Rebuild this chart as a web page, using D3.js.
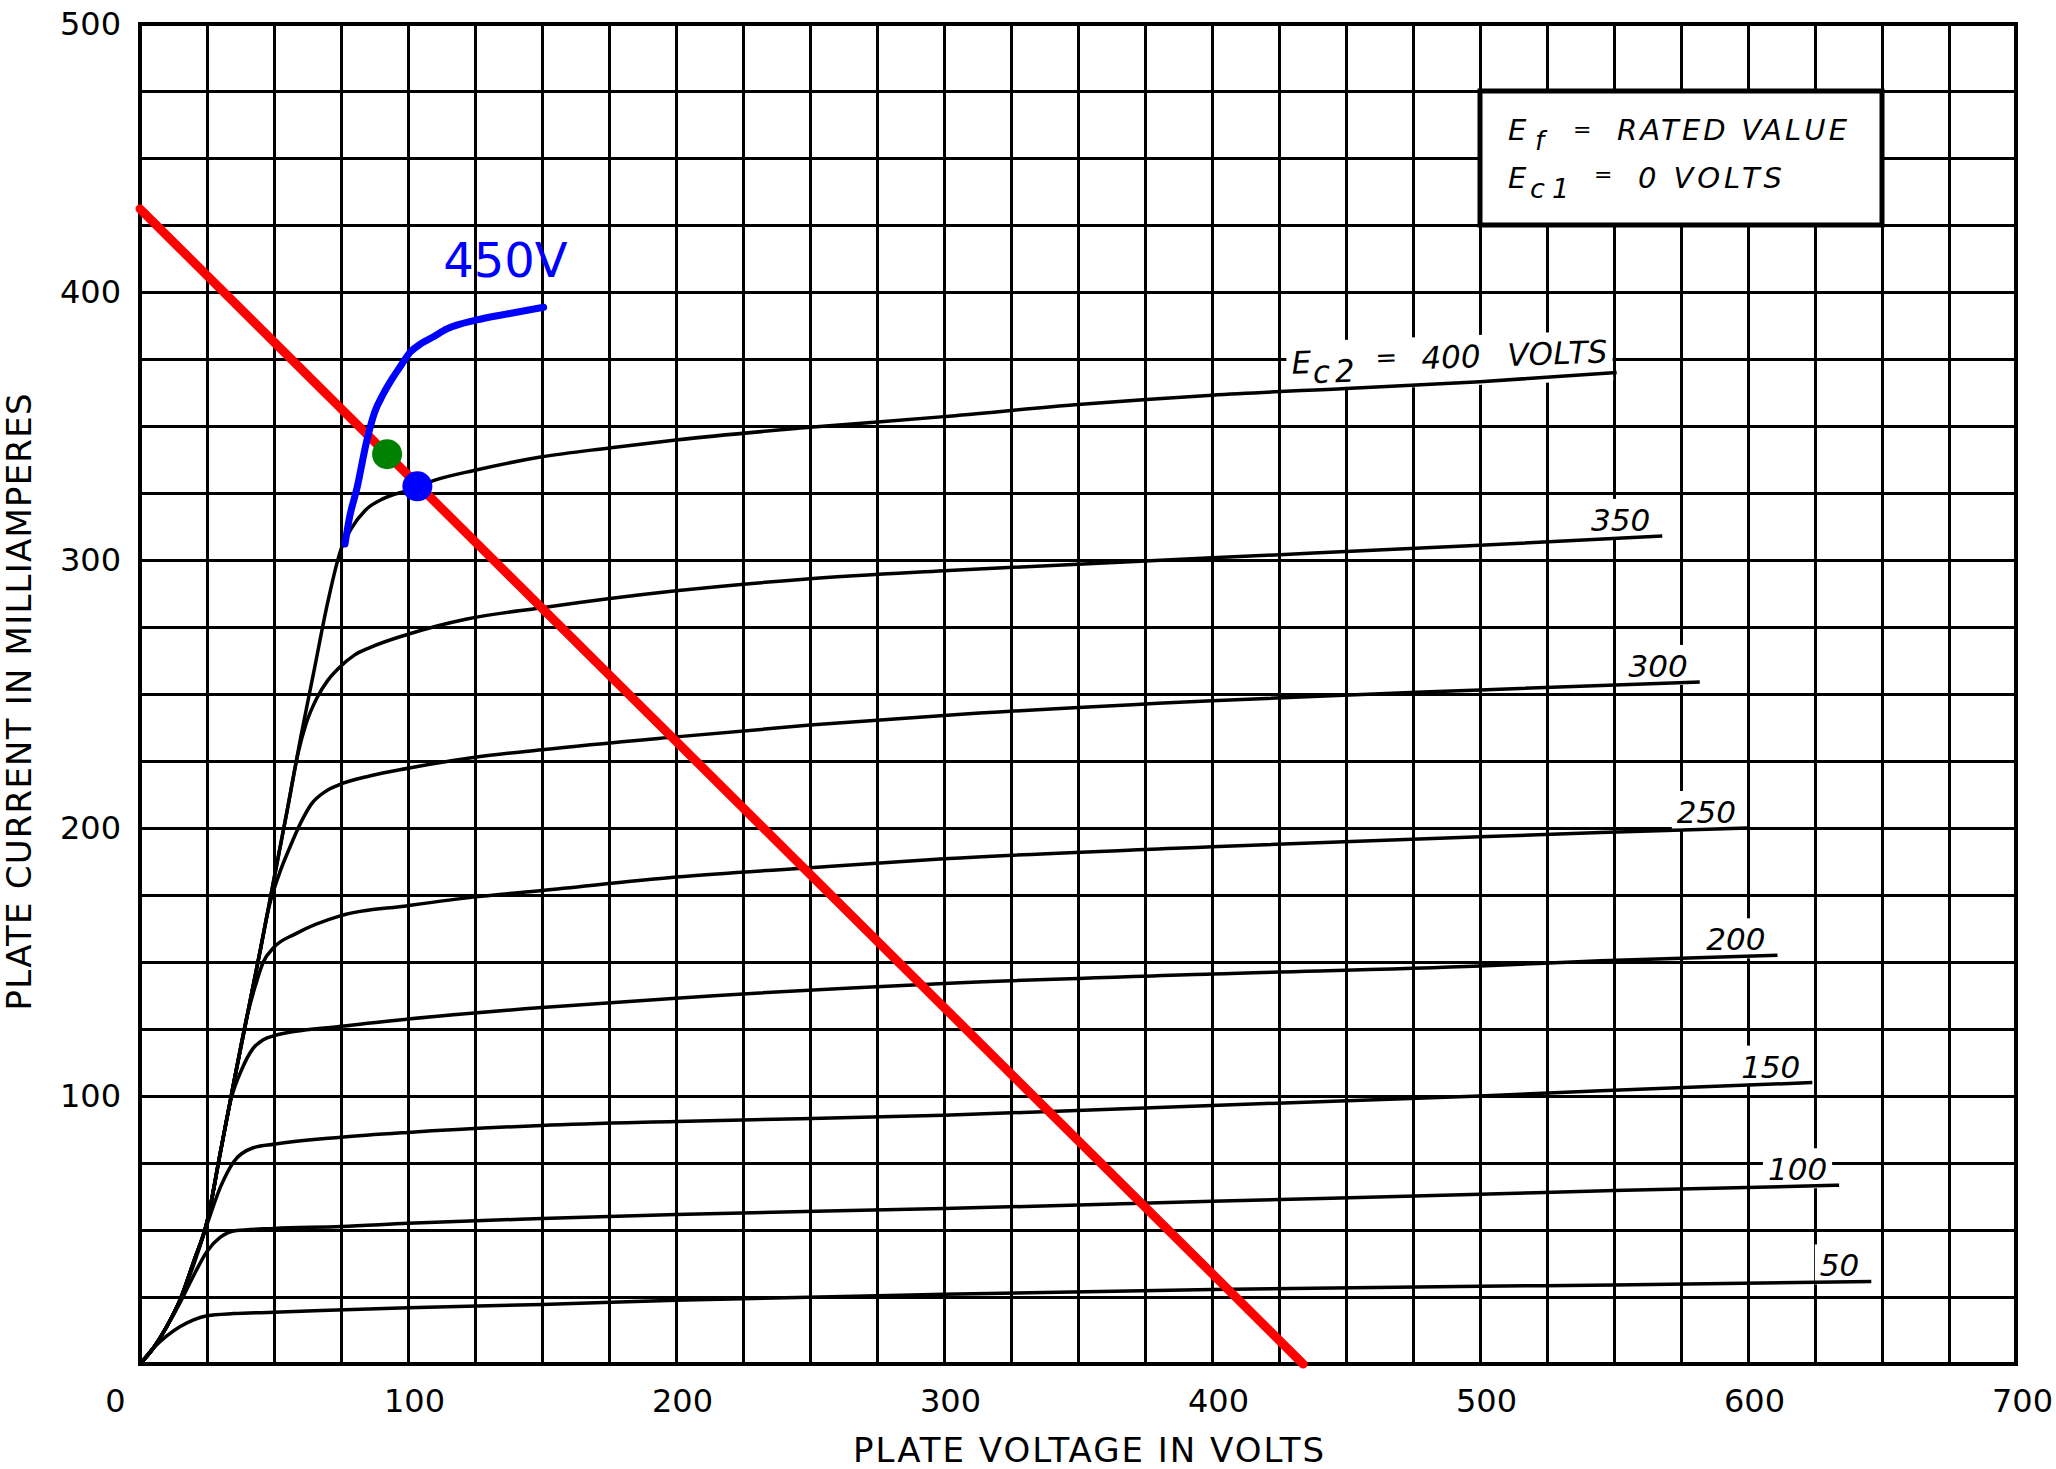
<!DOCTYPE html>
<html>
<head>
<meta charset="utf-8">
<script src="https://cdn.jsdelivr.net/npm/d3@7"></script>
<style>
  body { margin: 0; background: #fff; }
  svg { display: block; }
  .grid line { stroke: #000; stroke-width: 3; stroke-linecap: square; }
  .grid .domain { display: none; }
  .ticks .domain { display: none; }
  .ticks text { font-family: "DejaVu Sans"; font-size: 32px; fill: #000; }
  .curve { fill: none; stroke: #000; stroke-width: 3.5; stroke-linejoin: round; }
  .ital { font-family: "DejaVu Sans"; font-style: italic; fill: #000; }
</style>
</head>
<body>
<svg id="chart" width="2056" height="1469"></svg>
<script>
//Data

var xTicks = [0, 100, 200, 300, 400, 500, 600, 700];
var yTicks = [100, 200, 300, 400, 500];

var screenVolts = [50, 100, 150, 200, 250, 300, 350, 400];

// [plate volts, plate mA]
var curve50 = [[0,0],[5,6],[10,10.5],[15,14],[20,16.5],[25,18],[35,18.8],[50,19.3],[100,21],[150,22.2],[200,23.8],[300,26],[400,27.8],[500,29],[550,29.5],[646,30.8]];
var curve100 = [[0,0],[5,6],[10,14],[15,23],[20,33],[25,42],[30,47.3],[36,49.8],[50,50.6],[75,51.3],[100,52.5],[150,54.3],[200,55.8],[300,58],[400,60.7],[500,63.3],[550,64.7],[634,66.7]];
var curve150 = [[0,0],[5,6],[10,14],[15,24],[20,37],[25,52],[30,66],[35,75.5],[42,80.6],[50,82],[75,84.6],[100,86.4],[150,89],[200,90.5],[300,92.8],[400,96.5],[500,100],[545,102],[624,105]];
var curve200 = [[0,0],[5,6],[10,14],[15,24],[20,38],[25,53],[30,79],[34,99],[38,110],[42,117.5],[46,121],[50,122.5],[75,126],[100,128.7],[150,133],[200,136.5],[300,142],[400,145.5],[500,148.5],[545,150.5],[611,152.5]];
var curve250 = [[0,0],[5,6],[10,14],[15,24],[20,38],[25,53],[30,79],[35,105],[40,130],[43,141],[46,150],[50,155.5],[58,160.5],[75,167.3],[100,171],[125,174.3],[150,176.7],[200,181.7],[250,185.2],[300,188.5],[400,193],[500,196.7],[545,198.3],[600,200]];
var curve300 = [[0,0],[5,6],[10,14],[15,24],[20,38],[25,53],[30,79],[35,105],[40,130],[45,155],[48,170],[52,183],[56,193],[60,202],[64,209],[69,213.5],[74,216],[86,219.5],[100,222.3],[125,226.4],[150,229.2],[200,234],[250,238.4],[300,242],[400,247.5],[500,251.5],[582,254.5]];
var curve350 = [[0,0],[5,6],[10,14],[15,24],[20,38],[25,53],[30,79],[35,105],[40,130],[45,155],[50,181],[55,207],[59,228],[62,239],[66,248.5],[70,255],[74,259.5],[80,264.5],[86,267.4],[100,272.3],[122,278],[150,282.2],[200,288.5],[250,293],[300,296],[400,300.8],[500,305.5],[568,309]];
var curve400 = [[0,0],[5,6],[10,14],[15,24],[20,38],[25,53],[30,79],[35,105],[40,130],[45,155],[50,181],[55,207],[60,234],[65,259],[70,284],[75,304],[79,312],[84,318.5],[91,323],[100,326],[110,329.8],[125,333.5],[150,338.5],[175,341.8],[200,344.8],[250,349.5],[300,353.5],[350,358],[400,361.5],[450,364],[500,366.5],[551,370]];

// added 450 V screen curve, load line and operating points
var curve450 = [[76.5,306],[78,315],[81,327],[84.5,344],[87.5,355],[90.8,362],[94,367.5],[97,372],[100.8,377.5],[105,380.8],[109.5,383.3],[114.5,386.2],[125.7,389.6],[138,392],[150.6,394.3]];
var loadLineV = [0, 434];
var loadLineI = [431, 0];
var opPointV = [92.2, 103.5];
var opPointI = [339.5, 327.5];
var opPointColor = ["#008000", "#0000ff"];

var curves = [curve50, curve100, curve150, curve200, curve250, curve300, curve350, curve400];

//Building the chart
var W = 2056, H = 1469;
var svg = d3.select("#chart");
svg.append("rect").attr("width", W).attr("height", H).attr("fill", "#fff");

var x = d3.scaleLinear().domain([0, 700]).range([140, 2016]);
var y = d3.scaleLinear().domain([0, 500]).range([1364, 24]);
var plotW = x(700) - x(0), plotH = y(0) - y(500);

// grid every 25 V / 25 mA
svg.append("g")
    .attr("class", "grid")
    .attr("transform", "translate(0," + y(0) + ")")
    .call(d3.axisBottom(x).tickValues(d3.range(0, 701, 25)).tickSize(-plotH).tickFormat(""));
svg.append("g")
    .attr("class", "grid")
    .attr("transform", "translate(" + x(0) + ",0)")
    .call(d3.axisLeft(y).tickValues(d3.range(0, 501, 25)).tickSize(-plotW).tickFormat(""));
svg.append("rect")
    .attr("x", x(0)).attr("y", y(500))
    .attr("width", plotW).attr("height", plotH)
    .attr("fill", "none").attr("stroke", "#000").attr("stroke-width", 4);

// tick labels
var xAxis = svg.append("g")
    .attr("class", "ticks")
    .attr("transform", "translate(0," + y(0) + ")")
    .call(d3.axisBottom(x).tickValues(xTicks).tickSize(0).tickPadding(25));
xAxis.selectAll("text")
    .attr("dx", function(d){ return d === 0 ? -25 : 6; });
var yAxis = svg.append("g")
    .attr("class", "ticks")
    .attr("transform", "translate(" + x(0) + ",0)")
    .call(d3.axisLeft(y).tickValues(yTicks).tickSize(0).tickPadding(19));
svg.selectAll(".ticks text").style("font-family", "DejaVu Sans").style("font-size", "32px");

// axis titles
svg.append("text")
    .attr("x", 853).attr("y", 1462)
    .attr("textLength", 471).attr("lengthAdjust", "spacing")
    .style("font-family", "DejaVu Sans").style("font-size", "34px")
    .text("PLATE VOLTAGE IN VOLTS");
svg.append("text")
    .attr("transform", "translate(31,702) rotate(-90)")
    .attr("text-anchor", "middle")
    .attr("textLength", 617).attr("lengthAdjust", "spacing")
    .style("font-family", "DejaVu Sans").style("font-size", "34px")
    .text("PLATE CURRENT IN MILLIAMPERES");

// conditions box
var bx = x(500), by = y(475);
svg.append("rect")
    .attr("x", bx).attr("y", by)
    .attr("width", x(650) - x(500)).attr("height", y(425) - y(475))
    .attr("fill", "#fff").attr("stroke", "#000").attr("stroke-width", 5);
var box = svg.append("g").attr("class", "ital").style("font-size", "29px");
box.append("text").attr("x", bx + 28).attr("y", by + 49).text("E");
box.append("text").attr("x", bx + 55).attr("y", by + 59).style("font-size", "26px").text("f");
box.append("text").attr("x", bx + 93).attr("y", by + 46).style("font-size", "22px").text("=");
box.append("text").attr("x", bx + 137).attr("y", by + 49)
    .attr("textLength", 230).attr("lengthAdjust", "spacing").text("RATED VALUE");
box.append("text").attr("x", bx + 28).attr("y", by + 97).text("E");
box.append("text").attr("x", bx + 50).attr("y", by + 107).style("font-size", "27px").text("c");
box.append("text").attr("x", bx + 72).attr("y", by + 107).style("font-size", "27px").text("1");
box.append("text").attr("x", bx + 114).attr("y", by + 91).style("font-size", "22px").text("=");
box.append("text").attr("x", bx + 158).attr("y", by + 97)
    .attr("textLength", 144).attr("lengthAdjust", "spacing").text("0 VOLTS");

// curve labels, put just above each curve end with a white patch over the grid
var labels = svg.append("g");
screenVolts.forEach(function(v, i){
    var end = curves[i][curves[i].length - 1];
    var g = labels.append("g").attr("class", "ital").style("font-size", "31px");
    if (v === 400) {
        g.attr("transform", "translate(" + (x(end[0]) - 9) + "," + (y(end[1]) - 10) + ") rotate(-2.05)");
        g.append("text").attr("x", -316).attr("y", 0).text("E");
        g.append("text").attr("x", -295).attr("y", 10).text("c");
        g.append("text").attr("x", -273).attr("y", 10).text("2");
        g.append("text").attr("x", -232).attr("y", -4).style("font-size", "26px").text("=");
        g.append("text").attr("x", -186).attr("y", 0).text("400");
        g.append("text").attr("x", -100).attr("y", 0)
            .attr("textLength", 100).attr("lengthAdjust", "spacing").text("VOLTS");
    } else {
        g.attr("transform", "translate(" + (x(end[0]) - 12) + "," + (y(end[1]) - 5) + ")");
        g.append("text").attr("text-anchor", "end").text(v);
    }
    var bb = g.node().getBBox();
    g.insert("rect", ":first-child")
        .attr("x", bb.x - 5).attr("y", bb.y - 3)
        .attr("width", bb.width + 10).attr("height", bb.height + 4)
        .attr("fill", "#fff");
});

// characteristic curves
var line = d3.line()
    .x(function(d){ return x(d[0]); })
    .y(function(d){ return y(d[1]); })
    .curve(d3.curveMonotoneX);
svg.append("g").selectAll("path")
    .data(curves)
    .enter()
    .append("path")
    .attr("class", "curve")
    .attr("d", line);

// load line
svg.append("line")
    .attr("x1", x(loadLineV[0])).attr("y1", y(loadLineI[0]))
    .attr("x2", x(loadLineV[1])).attr("y2", y(loadLineI[1]))
    .attr("stroke", "#ff0000").attr("stroke-width", 9).attr("stroke-linecap", "round");

// 450 V curve
svg.append("path")
    .datum(curve450)
    .attr("d", line)
    .attr("fill", "none").attr("stroke", "#0000ff")
    .attr("stroke-width", 7).attr("stroke-linecap", "round").attr("stroke-linejoin", "round");
var c450End = curve450[curve450.length - 1];
svg.append("text")
    .attr("x", x(c450End[0]) + 24).attr("y", y(c450End[1]) - 30)
    .attr("text-anchor", "end")
    .style("font-family", "DejaVu Sans").style("font-size", "48px")
    .attr("fill", "#0000ff")
    .text("450V");

// operating points
svg.append("g").selectAll("circle")
    .data(opPointV)
    .enter()
    .append("circle")
    .attr("cx", function(d){ return x(d); })
    .attr("cy", function(d, i){ return y(opPointI[i]); })
    .attr("r", 15)
    .attr("fill", function(d, i){ return opPointColor[i]; });
</script>
</body>
</html>
